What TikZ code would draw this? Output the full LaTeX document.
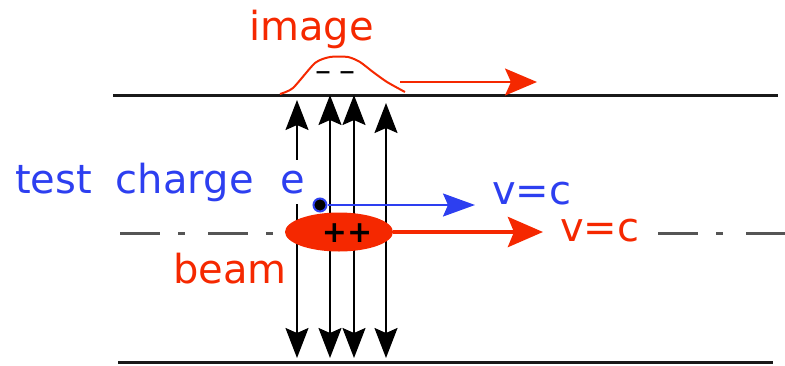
\documentclass[tikz,border=0pt]{standalone}
\usepackage{fontspec}
\setmainfont{DejaVu Sans}
\usetikzlibrary{arrows.meta,positioning,shapes.geometric}
\definecolor{beamred}{HTML}{F52800}
\definecolor{chargeblue}{HTML}{2D3FF0}
\definecolor{axisgray}{HTML}{555555}

\begin{document}
\begin{tikzpicture}[x=1pt,y=-1pt,
    every node/.style={inner sep=0pt,font=\fontsize{40}{48}\selectfont},
    wall/.style={line width=3pt,black!90},
    axisline/.style={line width=3pt,axisgray,dash pattern=on 40pt off 18pt on 7pt off 23pt},
    fieldline/.style={line width=2pt,
      {Stealth[length=30pt,width=23pt,inset=5pt]}-{Stealth[length=30pt,width=23pt,inset=5pt]}},
    redarrow/.style={beamred,-{Stealth[length=32pt,width=27pt,inset=6pt]}}]
  \useasboundingbox (0,0) rectangle (785,365);
  % pipe walls and beam axis
  \draw[wall] (113,95) -- (778,95);
  \draw[wall] (118,362) -- (773,362);
  \draw[axisline] (120,233) -- (286,233);
  \draw[axisline] (658,233) -- (785,233);
  % field lines
  \foreach \fx/\ftop in {297/100,330/95,354/95,386/103}
    \draw[fieldline] (\fx,\ftop) -- (\fx,358);
  % image charge on the wall
  \draw[beamred,line width=2pt] plot[smooth,tension=0.4] coordinates
    {(280,94) (293,88) (315,63) (330,57) (348,57) (360,62) (373,72) (387,82) (405,92)};
  \node[font=\fontsize{32}{32}\selectfont] (minus) at (335,77) {\textendash\hspace{8pt}\textendash};
  \coordinate (imagetip) at (537,82);
  \draw[redarrow,line width=2pt] (400,82) -- (imagetip);
  \node[anchor=base west,text=beamred] (imagelabel) at (249,40) {image};
  % beam bunch
  \node[ellipse,fill=beamred,minimum width=108pt,minimum height=39pt] (beam) at (339,232) {};
  \node[font=\fontsize{30}{30}\selectfont\bfseries] (plus) at (347,233) {++};
  \coordinate (beamtip) at (543,232);
  \draw[redarrow,line width=4.5pt,-{Stealth[length=35pt,width=30pt,inset=6pt]}] (beam.east) -- (beamtip);
  \node[anchor=base west,text=beamred] (vbeam) at (560,241) {v=c};
  \node[anchor=base west,text=beamred] (beamlabel) at (173,283) {beam};
  % test charge
  \node[circle,fill=black,draw=chargeblue,line width=2pt,minimum size=13pt] (charge) at (320,205) {};
  \coordinate (chargetip) at (475,205);
  \draw[chargeblue,line width=2pt,-{Stealth[length=32pt,width=23pt,inset=5pt]}] (charge) -- (chargetip);
  \node[anchor=base west,text=chargeblue] (vcharge) at (492,204) {v=c};
  \node[anchor=base west,text=chargeblue,fill=white,inner sep=3pt] (chargelabel) at (12,193)
    {test\hspace{24pt}charge\hspace{27pt}e};
\end{tikzpicture}
\end{document}
